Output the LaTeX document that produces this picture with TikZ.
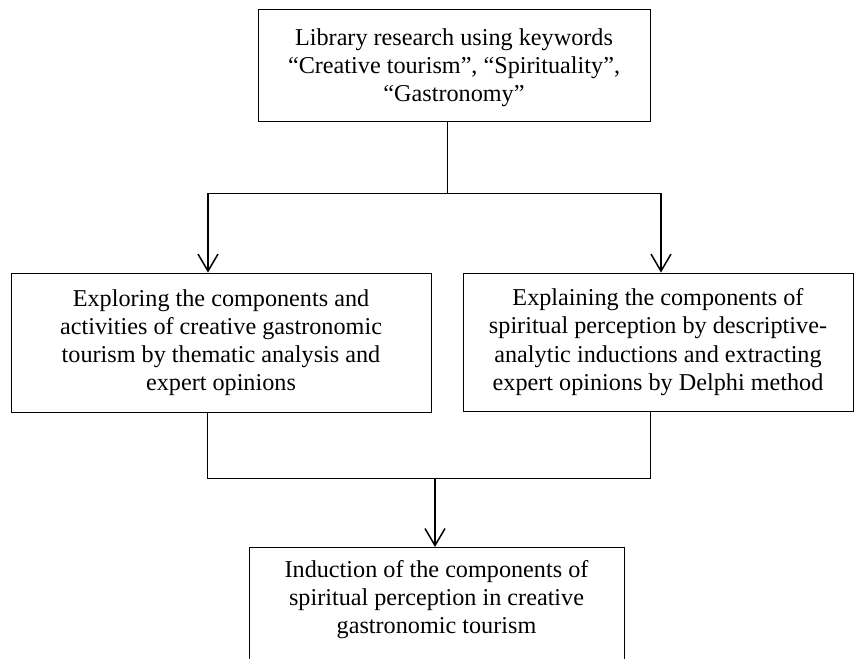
\documentclass[tikz,border=0pt]{standalone}
\usepackage{fontspec}
\setmainfont{Liberation Serif}
\usetikzlibrary{arrows.meta}
\begin{document}
\begin{tikzpicture}[x=1pt,y=-1pt,
  txt/.style={align=center, inner sep=0pt, font=\fontsize{24.2}{28.2}\selectfont},
  box/.style={draw, line width=0.9pt, txt},
  conn/.style={line width=0.9pt},
  arr/.style={line width=1.5pt, -{Straight Barb[length=17pt,width=20pt,line width=1.5pt]}}]
\useasboundingbox (0,0) rectangle (855,659);
\clip (0,0) rectangle (855,659);
\fill[white] (0,0) rectangle (855,659);
\node[box, minimum width=392pt, minimum height=112pt, text depth=0pt] (top) at (454,65)
  {Library research using keywords\\``Creative tourism'', ``Spirituality'',\\``Gastronomy''};
\node[box, minimum width=420pt, minimum height=139pt] (left) at (221,342.5)
  {Exploring the components and\\activities of creative gastronomic\\tourism by thematic analysis and\\expert opinions};
\node[box, minimum width=390pt, minimum height=138pt] (right) at (658,342)
  {Explaining the components of\\spiritual perception by descriptive-\\analytic inductions and extracting\\expert opinions by Delphi method};
\node[box, minimum width=375pt, minimum height=160pt, anchor=north] (bot) at (436.5,547) {};
\node[txt, anchor=north] (bottxt) at (436.5,560)
  {Induction of the components of\\spiritual perception in creative\\gastronomic tourism};
\coordinate (jT) at (447,193);
\coordinate (jL) at (208,193);
\coordinate (jR) at (661,193);
\draw[conn] (top.south -| jT) -- (jT);
\draw[conn] (jL) -- (jR);
\draw[arr] (jL) -- (jL |- left.north);
\draw[arr] (jR) -- (jR |- right.north);
\coordinate (kL) at (207,478);
\coordinate (kR) at (650,478);
\coordinate (kM) at (435,478);
\draw[conn] (left.south -| kL) -- (kL) -- (kR) -- (right.south -| kR);
\draw[arr] (kM) -- (kM |- bot.north);
\end{tikzpicture}
\end{document}
